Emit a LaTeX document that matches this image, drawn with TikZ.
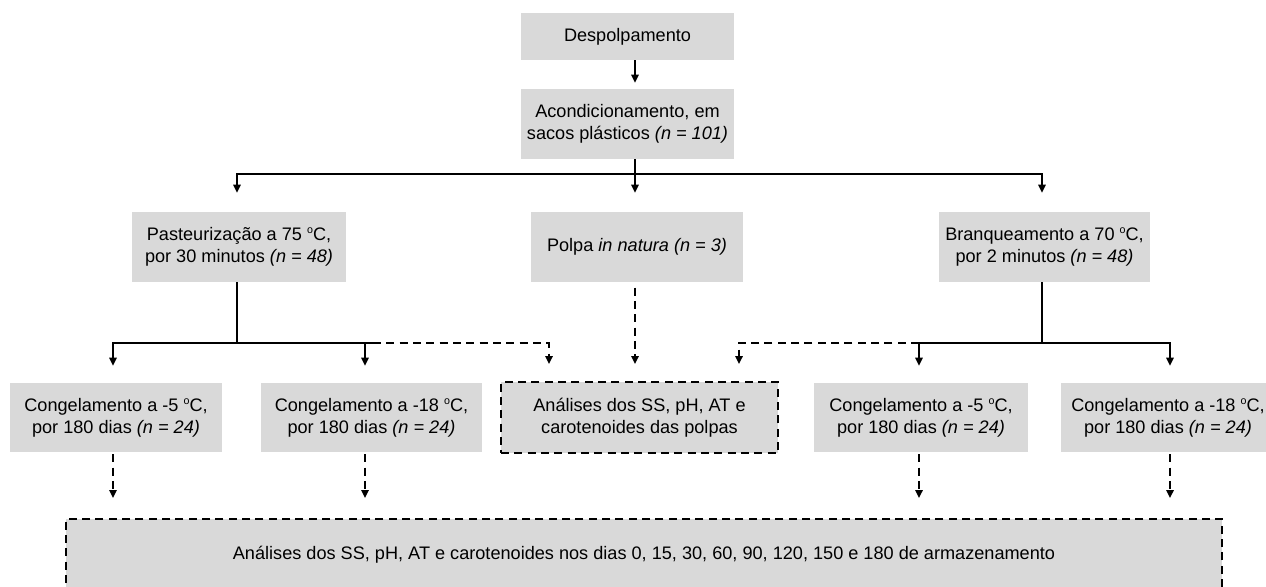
\documentclass[tikz,border=0pt]{standalone}
\usepackage{fontspec}
\setmainfont{Liberation Sans}
\usetikzlibrary{arrows.meta}
\newcommand{\dg}{\raisebox{5.2pt}{\fontsize{8}{8}\selectfont o}}
\begin{document}
\begin{tikzpicture}[x=0.75pt,y=-0.75pt,
  box/.style={fill=black!15, inner sep=0pt, align=center, font=\fontsize{13.6}{16.5}\selectfont},
  dbox/.style={box, draw, dash pattern=on 6pt off 4pt, line width=1.4pt},
  ln/.style={line width=1.4pt},
  arr/.style={ln, -{Triangle[length=6pt,width=5.5pt]}},
  dln/.style={ln, dash pattern=on 6pt off 4pt},
  darr/.style={arr, dash pattern=on 6pt off 4pt},
]
\useasboundingbox (0,0) rectangle (1266,586);
\clip (0,0) rectangle (1266,586);

% nodes
\node[box, minimum width=159.75pt, minimum height=35.25pt] (desp) at (627.5,36.5) {Despolpamento};
\node[box, minimum width=159.75pt, minimum height=52.5pt] (acond) at (627.5,124) {Acondicionamento, em\\sacos plásticos \textit{(n = 101)}};
\node[box, minimum width=160.5pt, minimum height=52.5pt] (past) at (239,247) {Pasteurização a 75 \dg C,\\por 30 minutos \textit{(n = 48)}};
\node[box, minimum width=159pt, minimum height=52.5pt] (polpa) at (637,247) {Polpa \textit{in natura (n = 3)}};
\node[box, minimum width=158.25pt, minimum height=52.5pt] (bran) at (1044.5,247) {Branqueamento a 70 \dg C,\\por 2 minutos \textit{(n = 48)}};
\node[box, minimum width=159pt, minimum height=51.75pt] (c1) at (116,417.5) {Congelamento a -5 \dg C,\\por 180 dias \textit{(n = 24)}};
\node[box, minimum width=165.75pt, minimum height=51.75pt] (c2) at (371.5,417.5) {Congelamento a -18 \dg C,\\por 180 dias \textit{(n = 24)}};
\node[dbox, minimum width=207.75pt, minimum height=53.25pt] (an1) at (639.5,417.5) {Análises dos SS, pH, AT e\\carotenoides das polpas};
\node[box, minimum width=160pt, minimum height=51.75pt] (c3) at (921,417.5) {Congelamento a -5 \dg C,\\por 180 dias \textit{(n = 24)}};
\node[box, minimum width=160pt, minimum height=51.75pt] (c4) at (1168,417.5) {Congelamento a -18 \dg C,\\por 180 dias \textit{(n = 24)}};
\node[dbox, minimum width=867pt, minimum height=54pt] (an2) at (644,555) {\raisebox{3.75pt}{Análises dos SS, pH, AT e carotenoides nos dias 0, 15, 30, 60, 90, 120, 150 e 180 de armazenamento}};

% junction coordinates
\coordinate (t1) at (237,174);
\coordinate (t2) at (635,174);
\coordinate (t3) at (1042,174);
\coordinate (p1) at (237,343);
\coordinate (pa) at (113,343);
\coordinate (pb) at (365,343);
\coordinate (pc) at (373,343);
\coordinate (pd) at (549,343);
\coordinate (b1) at (1042,343);
\coordinate (ba) at (739,343);
\coordinate (bb) at (919,343);
\coordinate (bc) at (1170,343);

% connectors
\draw[arr, shorten >=4.5pt] (desp.south -| t2) -- (acond.north -| t2);
\draw[arr, shorten >=14.25pt] (acond.south -| t2) -- (polpa.north -| t2);
\draw[arr, shorten >=14.25pt] (t2) -- (t1) -- (past.north -| t1);
\draw[arr, shorten >=14.25pt] (t2) -- (t3) -- (bran.north -| t3);

\draw[ln] (past.south -| p1) -- (p1);
\draw[arr, shorten >=12.75pt] (pc) -- (pa) -- (c1.north -| pa);
\draw[arr, shorten >=12.75pt] (pb) -- (c2.north -| pb);
\draw[darr, shorten >=12.75pt] (pc) -- (pd) -- (an1.north -| pd);

\draw[darr, shorten <=4pt, shorten >=12.75pt] (polpa.south -| t2) -- (an1.north -| t2);

\draw[ln] (bran.south -| b1) -- (b1);
\draw[arr, shorten >=12.75pt] (bb) -- (bc) -- (c4.north -| bc);
\draw[arr, shorten >=12.75pt] (bb) -- (c3.north -| bb);
\draw[darr, shorten >=12.75pt] (bb) -- (ba) -- (an1.north -| ba);

\draw[darr, shorten <=1.5pt, shorten >=15pt] (c1.south -| pa) -- (an2.north -| pa);
\draw[darr, shorten <=1.5pt, shorten >=15pt] (c2.south -| pb) -- (an2.north -| pb);
\draw[darr, shorten <=1.5pt, shorten >=15pt] (c3.south -| bb) -- (an2.north -| bb);
\draw[darr, shorten <=1.5pt, shorten >=15pt] (c4.south -| bc) -- (an2.north -| bc);
\end{tikzpicture}
\end{document}
